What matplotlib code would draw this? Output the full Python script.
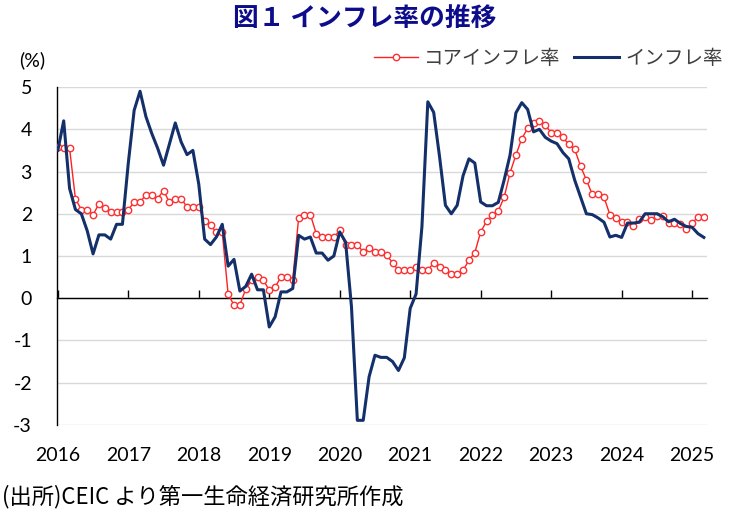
import numpy as np
import matplotlib
matplotlib.use("Agg")
import matplotlib.pyplot as plt

plt.rcParams['font.family'] = ['Lato', 'Noto Sans CJK JP', 'DejaVu Sans']
plt.rcParams['axes.unicode_minus'] = False

# monthly data, Jan 2016 - Mar 2025 (%)
headline = [
    3.5, 4.2, 2.6, 2.1, 2.0, 1.6, 1.05, 1.5, 1.5, 1.4, 1.75, 1.75,
    3.2, 4.45, 4.9, 4.3, 3.9, 3.55, 3.15, 3.65, 4.15, 3.7, 3.4, 3.5,
    2.7, 1.4, 1.27, 1.45, 1.75, 0.76, 0.92, 0.17, 0.28, 0.57, 0.2, 0.2,
    -0.68, -0.44, 0.15, 0.15, 0.23, 1.49, 1.4, 1.45, 1.07, 1.07, 0.9, 1.0,
    1.57, 1.33, -0.2, -2.89, -2.89, -1.86, -1.35, -1.4, -1.4, -1.5, -1.71, -1.41,
    -0.24, 0.1, 1.7, 4.65, 4.4, 3.35, 2.2, 2.0, 2.2, 2.9, 3.3, 3.2,
    2.28, 2.19, 2.19, 2.27, 2.8, 3.39, 4.39, 4.63, 4.47, 3.94, 4.0, 3.81,
    3.72, 3.66, 3.45, 3.3, 2.8, 2.4, 2.0, 1.98, 1.9, 1.8, 1.45, 1.49,
    1.44, 1.78, 1.78, 1.8, 2.0, 2.0, 2.0, 1.93, 1.81, 1.87, 1.77, 1.7,
    1.68, 1.53, 1.44,
]
core = [
    3.57, 3.55, 3.55, 2.35, 2.1, 2.1, 1.97, 2.24, 2.14, 2.04, 2.04, 2.04,
    2.1, 2.27, 2.27, 2.45, 2.45, 2.36, 2.55, 2.27, 2.36, 2.36, 2.16, 2.16,
    2.16, 1.83, 1.73, 1.56, 1.56, 0.09, -0.16, -0.16, 0.22, 0.42, 0.5, 0.43,
    0.19, 0.27, 0.5, 0.5, 0.44, 1.9, 1.98, 1.98, 1.53, 1.46, 1.44, 1.44,
    1.61, 1.26, 1.26, 1.26, 1.1, 1.19, 1.1, 1.1, 1.02, 0.84, 0.66, 0.66,
    0.66, 0.74, 0.66, 0.66, 0.84, 0.74, 0.66, 0.57, 0.57, 0.66, 0.9, 1.08,
    1.57, 1.82, 1.98, 2.07, 2.39, 2.97, 3.39, 3.78, 4.02, 4.14, 4.2, 4.1,
    3.92, 3.92, 3.81, 3.64, 3.53, 3.13, 2.8, 2.46, 2.46, 2.39, 1.98, 1.9,
    1.81, 1.81, 1.71, 1.87, 1.93, 1.86, 1.94, 1.94, 1.77, 1.77, 1.75, 1.63,
    1.77, 1.93, 1.93,
]
years = [str(y) for y in range(2016, 2026)]
yticks = [-3, -2, -1, 0, 1, 2, 3, 4, 5]

x = np.arange(len(headline))
year_pos = np.arange(len(years)) * 12

fig = plt.figure(figsize=(7.3, 5.12), dpi=100)
ax = fig.add_axes([0.078, 0.170, 0.891, 0.660])

ax.plot(x, core, color='#ff2020', lw=1.0, marker='o', ms=4.6,
        mfc='white', mec='#ff3030', mew=1.0, label='コアインフレ率', zorder=3)
ax.plot(x, headline, color='#14306a', lw=2.2, label='インフレ率', zorder=4)

ax.set_xlim(-0.15, 110.6)
ax.set_ylim(-3, 5)
ax.set_yticks(yticks)
ax.set_yticklabels([str(v) for v in yticks], fontsize=14)
ax.yaxis.grid(True, color='#d9d9d9', lw=1.0)
ax.set_axisbelow(True)
ax.tick_params(axis='y', length=0, pad=18)

for s in ['top', 'right']:
    ax.spines[s].set_visible(False)
ax.spines['left'].set_color('black')
ax.spines['left'].set_linewidth(1.0)
# zero line with tick marks pointing up
ax.spines['bottom'].set_position(('data', 0))
ax.spines['bottom'].set_color('black')
ax.spines['bottom'].set_linewidth(1.0)
ax.set_xticks(year_pos)
ax.tick_params(axis='x', direction='in', length=6, width=1, labelbottom=False)

# year labels below the plot
sec = ax.secondary_xaxis('bottom')
sec.set_xticks(year_pos)
sec.set_xticklabels(years, fontsize=14)
sec.tick_params(length=0, pad=16)
sec.spines['bottom'].set_visible(False)

fig.text(0.5, 0.963, '図１ インフレ率の推移', ha='center', va='center',
         fontsize=18.5, fontweight='bold', color='#0d0d8c',
         family=['Noto Sans CJK JP'])
fig.text(0.026, 0.882, '(%)', ha='left', va='center', fontsize=14)
ax.legend(loc='center right', bbox_to_anchor=(1.05, 1.085), ncol=2,
          frameon=False, handlelength=2.3, handletextpad=0.3,
          columnspacing=0.7, labelcolor='#404040',
          prop={'family': ['Noto Sans CJK JP'], 'size': 14})
fig.text(0.003, 0.03, '(出所)CEIC より第一生命経済研究所作成', ha='left',
         va='center', fontsize=16, family=['Noto Sans CJK JP', 'DejaVu Sans'])

fig.savefig('out.png', dpi=100)
